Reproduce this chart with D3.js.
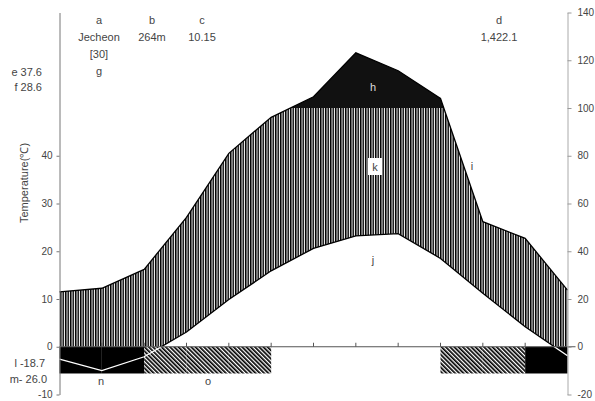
<!DOCTYPE html>
<html>
<head>
<meta charset="utf-8">
<script src="https://cdn.jsdelivr.net/npm/d3@7"></script>
<style>
	body { margin: 0; background: #fff; }
	svg text { font-family: "Liberation Sans", Arial, sans-serif; font-size: 11px; fill: #444; }
</style>
</head>
<body>
<svg id="chart" width="595" height="401"></svg>
<script>
// 13 points: the year wraps round (first and last point are the same month)
const monthIdx = d3.range(13);
const temperature = [-2.6, -5.0, -2.1, 3.1, 9.9, 15.9, 20.6, 23.2, 23.7, 18.5, 11.2, 4.2, -1.9];
const precipitation = [23.0, 24.5, 32.4, 54.2, 81.0, 96.1, 104.7, 123.1, 115.6, 104.0, 52.4, 45.4, 23.7];
// frost bar per month interval: "abs" = black, "prob" = hatched, "" = none
const frost = ["abs", "abs", "prob", "prob", "prob", "", "", "", "", "prob", "prob", "abs"];

const tempTicks = [-10, 0, 10, 20, 30, 40];
const precTicks = [-20, 0, 20, 40, 60, 80, 100, 120, 140];

const headerTexts = [
	["a", 99, 24], ["Jecheon", 99, 41], ["[30]", 99, 58], ["g", 99, 75],
	["b", 152, 24], ["264m", 152, 41],
	["c", 202, 24], ["10.15", 202, 41],
	["d", 499, 24], ["1,422.1", 499, 41]
];
const sideTexts = [["e 37.6", 42, 76], ["f 28.6", 42, 91], ["l -18.7", 45, 367], ["m- 26.0", 47, 383]];
const innerTexts = [["h", 373, 91], ["i", 472, 170], ["j", 373, 264], ["n", 101, 385], ["o", 208, 385]];

const svg = d3.select("#chart");

const x = d3.scaleLinear().domain([0, 12]).range([59.5, 567.5]);
const yT = d3.scaleLinear().domain([-10, 70]).range([394.5, 12.5]);
const yP = d3.scaleLinear().domain([-20, 140]).range([394.5, 12.5]);

const defs = svg.append("defs");

// vertical hatching for the humid period
const vp = defs.append("pattern")
	.attr("id", "vhatch")
	.attr("patternUnits", "userSpaceOnUse")
	.attr("width", 2.5).attr("height", 10);
vp.append("rect").attr("width", 2.5).attr("height", 10).attr("fill", "#fff");
vp.append("rect").attr("width", 1.5).attr("height", 10).attr("fill", "#000");

// diagonal hatching for probable frost
const dp = defs.append("pattern")
	.attr("id", "dhatch")
	.attr("patternUnits", "userSpaceOnUse")
	.attr("width", 3).attr("height", 10)
	.attr("patternTransform", "rotate(-45)");
dp.append("rect").attr("width", 3).attr("height", 10).attr("fill", "#fff");
dp.append("rect").attr("width", 1.7).attr("height", 10).attr("fill", "#000");

// clip regions
defs.append("clipPath").attr("id", "clipMid")
	.append("rect").attr("x", 0).attr("width", 595)
	.attr("y", yP(100)).attr("height", yP(0) - yP(100));
defs.append("clipPath").attr("id", "clipTop")
	.append("rect").attr("x", 0).attr("width", 595)
	.attr("y", 0).attr("height", yP(100));
defs.append("clipPath").attr("id", "clipAbove0")
	.append("rect").attr("x", 0).attr("width", 595)
	.attr("y", 0).attr("height", yT(0));
defs.append("clipPath").attr("id", "clipBelow0")
	.append("rect").attr("x", 0).attr("width", 595)
	.attr("y", yT(0)).attr("height", 401 - yT(0));

const data = monthIdx.map(i => ({ i: i, t: temperature[i], p: precipitation[i] }));

// humid area between precipitation and temperature (up to 100 mm)
const humid = d3.area()
	.x(d => x(d.i))
	.y0(d => yT(d.t))
	.y1(d => yP(d.p));
svg.append("path")
	.datum(data)
	.attr("d", humid)
	.attr("fill", "url(#vhatch)")
	.attr("clip-path", "url(#clipMid)");

// precipitation above 100 mm in black
const wet = d3.area()
	.x(d => x(d.i))
	.y0(yP(100))
	.y1(d => yP(d.p));
svg.append("path")
	.datum(data)
	.attr("d", wet)
	.attr("fill", "#111")
	.attr("clip-path", "url(#clipTop)");

// lines
const precLine = d3.line().x(d => x(d.i)).y(d => yP(d.p));
const tempLine = d3.line().x(d => x(d.i)).y(d => yT(d.t));

svg.append("path")
	.datum(data)
	.attr("d", precLine)
	.attr("fill", "none")
	.attr("stroke", "#000")
	.attr("stroke-width", 1.3);

svg.append("path")
	.datum(data)
	.attr("d", tempLine)
	.attr("fill", "none")
	.attr("stroke", "#000")
	.attr("stroke-width", 1.3)
	.attr("clip-path", "url(#clipAbove0)");

// frost bars
svg.append("g")
	.selectAll("rect")
	.data(frost.map((f, i) => ({ f: f, i: i })).filter(d => d.f !== ""))
	.join("rect")
	.attr("x", d => x(d.i))
	.attr("width", d => x(d.i + 1) - x(d.i))
	.attr("y", yT(0))
	.attr("height", yT(-5.6) - yT(0))
	.attr("fill", d => d.f === "abs" ? "#000" : "url(#dhatch)");

svg.append("path")
	.datum(data)
	.attr("d", tempLine)
	.attr("fill", "none")
	.attr("stroke", "#fff")
	.attr("stroke-width", 1.3)
	.attr("clip-path", "url(#clipBelow0)");

// x baseline with month ticks
svg.append("line")
	.attr("x1", x(0)).attr("x2", x(12) + 8)
	.attr("y1", yT(0)).attr("y2", yT(0))
	.attr("stroke", "#555");
svg.append("g")
	.selectAll("line")
	.data(d3.range(1, 12))
	.join("line")
	.attr("x1", d => x(d)).attr("x2", d => x(d))
	.attr("y1", yT(0)).attr("y2", yT(0) - 4)
	.attr("stroke", "#555");

// left axis
const leftAxis = svg.append("g")
	.attr("transform", `translate(${x(0)},0)`)
	.call(d3.axisLeft(yT).tickValues(tempTicks).tickSize(3).tickSizeOuter(0).tickPadding(4).tickFormat(d => String(d)));
leftAxis.select(".domain").attr("stroke", "#777");
leftAxis.selectAll(".tick line").attr("stroke", "#777");
leftAxis.selectAll("text").style("font-size", "10px");

// right axis
const rightAxis = svg.append("g")
	.attr("transform", `translate(${x(12)},0)`)
	.call(d3.axisRight(yP).tickValues(precTicks).tickSize(4).tickSizeOuter(0).tickPadding(6).tickFormat(d => String(d)));
rightAxis.select(".domain").attr("stroke", "#aaa");
rightAxis.selectAll(".tick line").attr("stroke", "#999");
rightAxis.selectAll("text").style("font-size", "10px");

// axis title
svg.append("text")
	.attr("transform", "translate(28,183) rotate(-90)")
	.attr("text-anchor", "middle")
	.text("Temperature(℃)");

// texts
svg.append("g").selectAll("text")
	.data(headerTexts)
	.join("text")
	.attr("x", d => d[1]).attr("y", d => d[2])
	.attr("text-anchor", "middle")
	.text(d => d[0]);

svg.append("g").selectAll("text")
	.data(sideTexts)
	.join("text")
	.attr("x", d => d[1]).attr("y", d => d[2])
	.attr("text-anchor", "end")
	.text(d => d[0]);

// k label on a white box
svg.append("rect")
	.attr("x", 368).attr("y", 158).attr("width", 14).attr("height", 17)
	.attr("fill", "#fff");
svg.append("text")
	.attr("x", 375).attr("y", 171)
	.attr("text-anchor", "middle")
	.text("k");

const inner = svg.append("g").selectAll("text")
	.data(innerTexts)
	.join("text")
	.attr("x", d => d[1]).attr("y", d => d[2])
	.attr("text-anchor", "middle")
	.text(d => d[0]);
inner.filter(d => d[0] === "h").style("fill", "#ddd");
</script>
</body>
</html>
